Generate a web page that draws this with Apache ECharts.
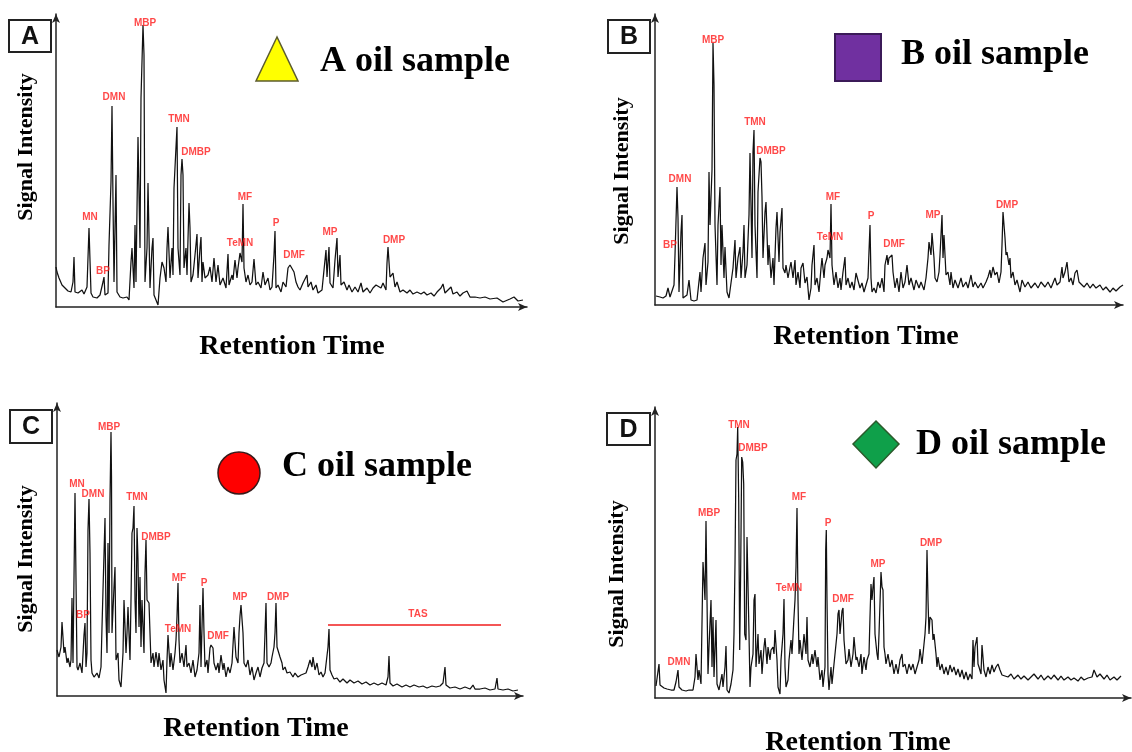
<!DOCTYPE html>
<html><head><meta charset="utf-8">
<script src="https://cdn.jsdelivr.net/npm/echarts@6/dist/echarts.min.js"></script>
<style>html,body{margin:0;padding:0;background:#fff}#c{width:1132px;height:752px}</style>
</head><body><div id="c"></div>
<script>
// Chromatogram traces: [retention time (arb.), signal intensity (arb.)]
const traceA = [[0,40],[1,35],[3,29],[6,22],[9,19],[12,16],[15,15],[17,25],[18,50],[19,15],[22,14],[26,17],[28,13],[31,20],[33,79],[35,14],[37,10],[41,9],[44,12],[47,25],[48,30],[49,12],[52,14],[53,62],[55,125],[56,201],[57,105],[58,25],[60,132],[61,15],[64,10],[67,9],[71,10],[73,7],[75,45],[76,59],[78,19],[79,82],[80,25],[82,170],[84,59],[85,209],[87,282],[88,252],[89,25],[91,59],[92,124],[94,19],[96,59],[97,69],[98,12],[100,7],[102,2],[104,29],[106,45],[108,39],[110,25],[111,59],[112,80],[114,29],[116,59],[117,32],[118,119],[120,160],[121,180],[122,59],[124,32],[125,132],[126,148],[127,132],[128,39],[130,59],[131,32],[133,104],[134,79],[135,25],[137,32],[139,52],[141,73],[142,29],[144,59],[145,70],[146,25],[147,45],[149,29],[152,32],[154,40],[156,25],[158,49],[160,25],[162,42],[164,22],[167,29],[170,19],[172,53],[173,22],[176,32],[177,27],[179,47],[181,29],[182,39],[184,54],[186,45],[187,103],[188,39],[190,25],[192,32],[194,22],[196,25],[198,48],[200,22],[202,25],[205,19],[207,35],[209,22],[212,29],[214,17],[216,20],[218,52],[219,76],[220,19],[222,22],[225,15],[227,25],[230,20],[232,39],[234,42],[236,44],[238,35],[240,25],[242,20],[244,17],[247,24],[251,32],[252,20],[255,25],[257,17],[260,22],[262,14],[266,17],[268,37],[270,57],[271,30],[273,60],[274,24],[277,19],[279,47],[281,69],[282,30],[284,52],[285,22],[288,25],[291,17],[293,22],[296,15],[299,20],[302,15],[305,24],[307,15],[311,19],[314,14],[317,19],[320,22],[322,24],[325,19],[327,24],[330,17],[331,44],[332,60],[334,30],[336,32],[337,34],[339,20],[341,25],[344,15],[347,17],[351,14],[354,17],[357,13],[361,15],[365,13],[368,15],[371,12],[375,14],[378,11],[381,15],[385,19],[387,23],[389,14],[392,17],[395,20],[397,13],[401,15],[404,11],[407,14],[411,16],[414,10],[419,10],[424,9],[429,10],[434,8],[441,9],[447,5],[454,8],[458,10],[462,6],[467,7]];
const traceB = [[1,9],[5,8],[8,7],[11,9],[13,17],[15,8],[17,10],[19,20],[20,50],[21,52],[22,118],[23,87],[24,13],[26,73],[27,90],[28,7],[30,5],[32,10],[34,25],[36,5],[39,4],[42,5],[45,33],[46,13],[48,47],[50,62],[51,20],[53,43],[54,133],[55,80],[57,135],[58,262],[59,220],[60,80],[62,20],[63,80],[65,118],[66,40],[67,80],[69,27],[70,58],[72,13],[74,7],[76,5],[78,37],[80,65],[81,27],[83,47],[85,58],[86,27],[88,53],[89,80],[90,27],[92,40],[94,90],[95,152],[97,47],[98,153],[99,175],[100,80],[102,27],[103,113],[105,147],[106,143],[107,108],[108,47],[110,93],[111,103],[113,40],[114,60],[116,27],[118,47],[119,20],[121,77],[122,93],[124,43],[125,73],[127,97],[128,37],[130,32],[131,40],[133,27],[135,38],[136,43],[138,27],[140,45],[141,20],[143,33],[145,17],[146,37],[148,42],[150,22],[152,28],[154,5],[156,17],[157,40],[159,60],[160,20],[162,27],[164,13],[166,37],[167,47],[169,27],[170,40],[172,47],[173,55],[175,47],[176,101],[177,40],[179,20],[181,33],[183,17],[185,27],[186,15],[188,33],[190,48],[191,20],[193,27],[195,17],[197,23],[199,15],[201,32],[203,33],[205,17],[207,22],[209,13],[211,20],[213,27],[215,80],[216,27],[217,13],[219,17],[221,12],[223,23],[225,17],[227,27],[229,13],[230,40],[232,50],[233,40],[234,47],[236,48],[237,50],[238,33],[240,17],[242,27],[244,13],[246,33],[248,17],[250,23],[252,40],[254,20],[256,27],[259,15],[261,25],[264,17],[266,23],[269,15],[271,27],[273,47],[274,63],[276,50],[277,72],[279,47],[280,27],[282,23],[284,33],[285,50],[287,90],[288,47],[289,70],[291,30],[293,33],[295,20],[296,33],[298,17],[300,25],[303,17],[306,27],[308,18],[311,23],[313,17],[316,30],[318,18],[320,23],[323,17],[326,22],[328,17],[331,23],[333,28],[335,35],[336,27],[338,38],[340,30],[342,33],[344,22],[346,33],[347,60],[348,93],[350,67],[351,50],[352,53],[354,40],[355,47],[356,27],[358,33],[360,20],[362,25],[365,13],[367,25],[370,18],[373,23],[376,17],[380,22],[383,17],[386,23],[390,18],[393,23],[396,17],[400,27],[402,20],[405,23],[407,38],[408,27],[410,33],[412,43],[414,23],[416,27],[418,20],[420,32],[422,35],[424,23],[426,25],[429,18],[432,22],[435,17],[438,21],[441,17],[445,20],[448,15],[451,18],[455,13],[458,17],[461,14],[465,18],[468,20]];
const traceC = [[0,46],[2,39],[4,49],[5,74],[7,43],[8,49],[10,33],[11,38],[13,29],[14,36],[15,98],[16,33],[18,203],[19,116],[20,29],[21,26],[23,33],[25,23],[27,61],[28,73],[29,29],[30,43],[31,166],[32,197],[33,143],[34,36],[35,23],[37,19],[40,23],[42,18],[44,29],[45,69],[46,106],[48,178],[49,79],[50,43],[51,153],[52,63],[53,196],[54,264],[54.5,219],[55,63],[57,109],[58,129],[59,36],[61,43],[62,16],[64,9],[66,43],[67,96],[69,43],[70,63],[71,89],[73,36],[74,96],[75,163],[76,168],[77,190],[78,96],[79,63],[80,168],[81,136],[82,69],[83,119],[84,49],[85,96],[87,43],[88,123],[89,156],[90,96],[92,93],[93,63],[94,33],[96,43],[97,29],[99,44],[101,29],[102,43],[104,26],[106,36],[107,16],[109,3],[110,36],[111,61],[113,29],[114,43],[116,26],[118,43],[119,56],[120,79],[121,113],[122,56],[123,33],[125,43],[127,29],[129,51],[130,29],[132,33],[134,23],[136,36],[138,19],[140,26],[142,43],[143,91],[144,29],[146,108],[147,63],[148,29],[150,36],[151,23],[153,48],[154,51],[156,48],[157,33],[159,26],[161,33],[162,23],[164,41],[166,26],[167,33],[169,19],[171,29],[173,23],[175,33],[177,69],[178,70],[179,39],[181,33],[182,63],[183,80],[184,91],[186,63],[187,33],[189,29],[191,36],[193,21],[195,29],[197,16],[199,23],[201,29],[203,19],[205,28],[207,33],[208,63],[209,93],[210,33],[212,29],[214,33],[215,39],[217,49],[218,63],[219,93],[220,49],[222,51],[223,39],[225,33],[226,26],[228,29],[230,23],[233,24],[236,19],[238,23],[241,19],[244,21],[246,19],[249,23],[251,29],[253,36],[255,29],[256,39],[258,26],[260,33],[262,21],[264,24],[266,19],[268,23],[270,21],[271,49],[272,67],[273,26],[275,21],[277,17],[280,18],[283,14],[286,17],[290,13],[293,16],[297,13],[301,15],[305,12],[309,14],[313,11],[317,13],[321,11],[325,13],[329,11],[331,19],[332,40],[333,13],[336,10],[340,12],[345,9],[349,11],[353,9],[357,11],[362,9],[366,10],[370,8],[375,10],[379,9],[383,10],[386,13],[388,29],[389,11],[393,8],[398,9],[403,7],[408,9],[413,7],[416,11],[418,7],[423,7],[428,8],[433,6],[438,7],[440,18],[441,7],[446,6],[451,7],[456,5],[461,6]];
const traceD = [[1,12],[3,14],[4,34],[5,13],[9,10],[12,9],[16,8],[19,8],[21,16],[23,28],[24,11],[27,8],[31,7],[34,8],[38,8],[40,21],[41,44],[43,18],[44,28],[46,14],[48,136],[49,118],[50,98],[51,177],[52,98],[53,24],[54,51],[56,98],[57,31],[58,81],[59,21],[61,78],[62,14],[64,8],[67,24],[68,11],[70,31],[71,52],[72,8],[74,5],[76,14],[78,28],[79,64],[80,134],[81,238],[82,244],[82.7,271],[83.7,198],[84.7,48],[85.7,131],[86.7,241],[87.7,236],[88.7,214],[89.7,64],[91,58],[92,161],[94,64],[95,11],[96,31],[98,44],[99,98],[100,104],[101,31],[103,64],[104,34],[106,48],[107,24],[109,51],[110,60],[112,34],[113,51],[115,38],[116,48],[118,51],[119,44],[120,68],[122,38],[123,11],[125,4],[126,38],[128,64],[129,99],[130,31],[131,11],[133,18],[134,38],[136,58],[137,44],[139,81],[140,98],[141,131],[142,190],[143,98],[144,44],[145,58],[147,38],[148,51],[149,64],[151,44],[152,81],[153,38],[155,31],[157,44],[158,34],[160,48],[162,31],[163,41],[165,18],[167,28],[168,11],[170,31],[170.7,148],[171.3,168],[172,98],[173,24],[174,8],[176,31],[177,14],[179,34],[180,44],[182,64],[183,84],[184,88],[185,64],[187,87],[188,90],[189,58],[191,34],[193,38],[194,49],[196,31],[198,44],[199,61],[201,38],[202,41],[204,31],[206,44],[207,24],[209,41],[211,28],[212,38],[214,44],[215,81],[216,114],[217,98],[218,111],[219,121],[220,64],[222,44],[223,38],[224,64],[226,126],[227,111],[228,108],[229,51],[230,44],[231,34],[233,44],[235,31],[237,38],[239,24],[241,34],[243,24],[245,38],[247,44],[248,31],[250,34],[252,24],[254,34],[256,28],[258,34],[260,24],[262,31],[264,38],[265,49],[267,34],[268,44],[270,64],[271,81],[272,148],[273,98],[274,64],[275,81],[277,78],[278,58],[279,64],[281,44],[282,31],[283,41],[285,28],[287,34],[289,24],[291,31],[293,23],[295,33],[297,26],[299,31],[301,23],[303,29],[305,21],[307,28],[309,19],[311,26],[313,18],[315,24],[317,19],[318,58],[319,31],[320,51],[322,61],[323,34],[324,31],[326,24],[327,53],[329,28],[331,21],[333,31],[335,24],[337,33],[339,26],[341,31],[343,34],[345,28],[347,23],[349,25],[353,21],[356,24],[359,19],[363,23],[366,19],[369,22],[373,18],[376,21],[379,24],[383,19],[386,23],[389,18],[393,22],[396,19],[399,23],[403,18],[406,22],[409,18],[413,21],[416,18],[419,20],[423,17],[426,21],[429,18],[433,20],[437,21],[439,28],[442,21],[445,24],[449,19],[452,23],[455,18],[459,21],[462,18],[466,22]];

// Peak labels: [compound, retention time, intensity at label]
const labelsA = [['MN',34,90],['BP',47,36],['DMN',58,210],['MBP',89,284],['TMN',123,188],['DMBP',140,155],['MF',189,110],['TeMN',184,64],['P',220,84],['DMF',238,52],['MP',274,75],['DMP',338,67]];
const labelsB = [['BP',15,60],['DMN',25,126],['MBP',58,265],['TMN',100,183],['DMBP',116,154],['MF',178,108],['TeMN',175,68],['P',216,89],['DMF',239,61],['MP',278,90],['DMP',352,100]];
const labelsC = [['MN',20,212],['DMN',36,202],['MBP',52,269],['BP',26,81],['TMN',80,199],['DMBP',99,159],['MF',122,118],['TeMN',121,67],['P',147,113],['DMF',161,60],['MP',183,99],['DMP',221,99],['TAS',361,82]];
const labelsD = [['DMN',24,36],['MBP',54,185],['TMN',84,273],['DMBP',98,250],['TeMN',134,110],['MF',144,201],['P',173,175],['DMF',188,99],['MP',223,134],['DMP',276,155]];
const tasRange = [[271,71],[444,71]];

const panelLetters = ['A','B','C','D'];
const sampleTitles = ['A oil sample','B oil sample','C oil sample','D oil sample'];
const xAxisTitle = 'Retention Time';
const yAxisTitle = 'Signal Intensity';

const traces = [traceA, traceB, traceC, traceD];
const labels = [labelsA, labelsB, labelsC, labelsD];
const layout = [
  {left:56, top:14, width:471, height:293, box:[9,20,42,32], title:[320,62], xt:[292,347], yt:[26,147]},
  {left:655, top:14, width:468, height:291, box:[608,20,42,33], title:[901,55], xt:[866,337], yt:[622,171]},
  {left:57, top:403, width:466, height:293, box:[10,410,42,33], title:[282,467], xt:[256,729], yt:[26,559]},
  {left:655, top:407, width:476, height:291, box:[607,413,43,32], title:[916,445], xt:[858,743], yt:[617,574]}
];

const grids = [], xAxes = [], yAxes = [], series = [], graphics = [];
const axisLineCfg = {show:true, lineStyle:{color:'#222', width:1.5}, symbol:['none','arrow'], symbolSize:[6,9]};
layout.forEach((p, i) => {
  grids.push({left:p.left, top:p.top, width:p.width, height:p.height, containLabel:false, outerBoundsMode:'none'});
  xAxes.push({gridIndex:i, type:'value', min:0, max:p.width, axisLine:axisLineCfg, axisTick:{show:false}, axisLabel:{show:false}, splitLine:{show:false}});
  yAxes.push({gridIndex:i, type:'value', min:0, max:p.height, axisLine:axisLineCfg, axisTick:{show:false}, axisLabel:{show:false}, splitLine:{show:false}});
  series.push({type:'line', xAxisIndex:i, yAxisIndex:i, data:traces[i], showSymbol:false, symbol:'none', silent:true,
    lineStyle:{color:'#111', width:1.25}, z:2});
  series.push({type:'scatter', xAxisIndex:i, yAxisIndex:i, symbolSize:0, silent:true, z:5,
    data:labels[i].map(l => ({name:l[0], value:[l[1], l[2]]})),
    label:{show:true, formatter:'{b}', position:'inside', color:'#ff1a1a', fontSize:10, fontWeight:'bold', fontFamily:'Liberation Sans'}});
  const b = p.box;
  graphics.push({type:'rect', shape:{x:b[0], y:b[1], width:b[2], height:b[3]}, style:{fill:'#fff', stroke:'#222', lineWidth:2}, z:10});
  graphics.push({type:'text', x:b[0]+b[2]/2, y:b[1]+b[3]/2+1, style:{text:panelLetters[i], font:'bold 25px "Liberation Sans"', fill:'#111', align:'center', verticalAlign:'middle', textAlign:'center', textVerticalAlign:'middle'}, z:11});
  graphics.push({type:'text', x:p.title[0], y:p.title[1], style:{text:sampleTitles[i], font:'bold 36px "Liberation Serif"', fill:'#000', align:'left', verticalAlign:'middle', textAlign:'left', textVerticalAlign:'middle'}, z:11});
  graphics.push({type:'text', x:p.xt[0], y:p.xt[1], style:{text:xAxisTitle, font:'bold 28px "Liberation Serif"', fill:'#000', align:'center', verticalAlign:'middle', textAlign:'center', textVerticalAlign:'middle'}, z:11});
  graphics.push({type:'text', x:p.yt[0], y:p.yt[1], rotation:Math.PI/2, style:{text:yAxisTitle, font:'bold 22px "Liberation Serif"', fill:'#000', align:'center', verticalAlign:'middle', textAlign:'center', textVerticalAlign:'middle'}, z:11});
});
// sample markers
graphics.push({type:'polygon', shape:{points:[[277,37],[256,81],[298,81]]}, style:{fill:'#ffff00', stroke:'#5c5c2e', lineWidth:1.5}, z:10});
graphics.push({type:'rect', shape:{x:835, y:34, width:46, height:47}, style:{fill:'#7030a0', stroke:'#3b1a58', lineWidth:2}, z:10});
graphics.push({type:'circle', shape:{cx:239, cy:473, r:21}, style:{fill:'#ff0000', stroke:'#3a1a1a', lineWidth:1.5}, z:10});
graphics.push({type:'polygon', shape:{points:[[876,421],[899,444],[876,468],[853,444]]}, style:{fill:'#0fa04a', stroke:'#2b5a2b', lineWidth:1.5}, z:10});

// TAS range line in panel C
series.push({type:'line', xAxisIndex:2, yAxisIndex:2, data:tasRange, showSymbol:false, symbol:'none', silent:true, lineStyle:{color:'#f01e1e', width:1.5}, z:4});

const chart = echarts.init(document.getElementById('c'), null, {renderer:'canvas'});
chart.setOption({
  animation:false,
  backgroundColor:'#fff',
  grid:grids, xAxis:xAxes, yAxis:yAxes, series:series, graphic:graphics
});
</script></body></html>
